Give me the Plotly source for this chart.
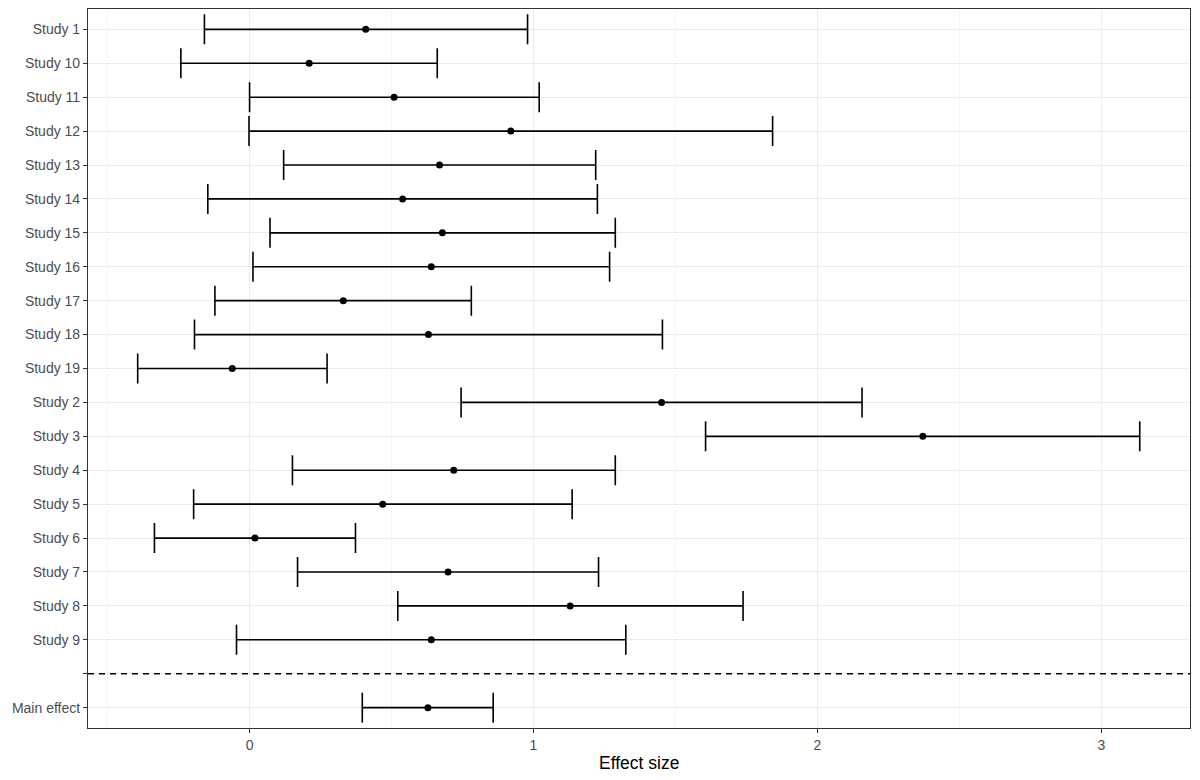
import plotly.graph_objects as go

# ---- data ----
studies = ["Study 1", "Study 10", "Study 11", "Study 12", "Study 13", "Study 14",
           "Study 15", "Study 16", "Study 17", "Study 18", "Study 19", "Study 2",
           "Study 3", "Study 4", "Study 5", "Study 6", "Study 7", "Study 8", "Study 9"]
estimate = [0.409, 0.210, 0.509, 0.920, 0.669, 0.539, 0.679, 0.640, 0.330, 0.630,
            -0.061, 1.451, 2.371, 0.719, 0.469, 0.019, 0.699, 1.129, 0.640]
lower = [-0.159, -0.242, 0.000, -0.002, 0.120, -0.147, 0.072, 0.012, -0.122, -0.194,
         -0.394, 0.745, 1.606, 0.151, -0.197, -0.335, 0.169, 0.522, -0.046]
upper = [0.979, 0.661, 1.020, 1.842, 1.219, 1.225, 1.288, 1.268, 0.781, 1.454,
         0.273, 2.157, 3.135, 1.288, 1.136, 0.373, 1.229, 1.738, 1.325]

main_label = "Main effect"
main_estimate = [0.628]
main_lower = [0.397]
main_upper = [0.858]

x_title = "Effect size"
x_ticks = [0, 1, 2, 3]

# ---- positions on the discrete axis ----
n = len(studies)
study_pos = list(range(n))
sep_pos = n              # blank slot holding the dashed separator
main_pos = [n + 1]

tick_vals = study_pos + [sep_pos] + main_pos
tick_text = studies + [""] + [main_label]

FONT = "Liberation Sans, Arial, Helvetica, sans-serif"

def err_trace(x, lo, hi, y):
    return go.Scatter(
        x=x, y=y, mode="markers",
        marker=dict(color="black", size=7),
        error_x=dict(type="data", symmetric=False,
                     array=[h - e for h, e in zip(hi, x)],
                     arrayminus=[e - l for e, l in zip(x, lo)],
                     color="black", thickness=1.6, width=15),
        showlegend=False, hoverinfo="x+y",
    )

fig = go.Figure()
fig.add_trace(err_trace(estimate, lower, upper, study_pos))
fig.add_trace(err_trace(main_estimate, main_lower, main_upper, main_pos))

fig.add_hline(y=sep_pos, line=dict(color="black", width=1.5, dash="6px,5px"))

fig.add_annotation(
    text=x_title, xref="paper", yref="paper", x=0.5, y=-0.048,
    xanchor="center", yanchor="middle", showarrow=False,
    font=dict(family=FONT, size=17.5, color="black"),
)

# the page body adds an 8px offset, so the figure is sized to compensate
fig.update_layout(
    width=1192, height=772,
    margin=dict(l=80, r=9.5, t=1.3, b=51.7, autoexpand=False),
    paper_bgcolor="white", plot_bgcolor="white",
    font=dict(family=FONT, color="#4D4D4D", size=14),
    xaxis=dict(
        range=[-0.569, 3.312], tickvals=x_ticks, ticktext=[str(t) for t in x_ticks],
        showgrid=True, gridcolor="#EBEBEB", gridwidth=1.1,
        minor=dict(dtick=0.5, tick0=0, showgrid=True, gridcolor="#F4F4F4",
                   gridwidth=0.6, ticks=""),
        zeroline=False, showline=True, linecolor="#333333", linewidth=1.1, mirror=True,
        ticks="outside", ticklen=4, tickcolor="#333333", tickwidth=1.1,
        tickfont=dict(family=FONT, size=14, color="#4D4D4D"),
        automargin=False,
    ),
    yaxis=dict(
        range=[main_pos[0] + 0.6, -0.6], tickvals=tick_vals, ticktext=tick_text,
        showgrid=True, gridcolor="#EBEBEB", gridwidth=1.1,
        zeroline=False, showline=True, linecolor="#333333", linewidth=1.1, mirror=True,
        ticks="outside", ticklen=4, tickcolor="#333333", tickwidth=1.1,
        tickfont=dict(family=FONT, size=14, color="#4D4D4D"),
        automargin=False,
    ),
)

fig.write_html("out.html")
